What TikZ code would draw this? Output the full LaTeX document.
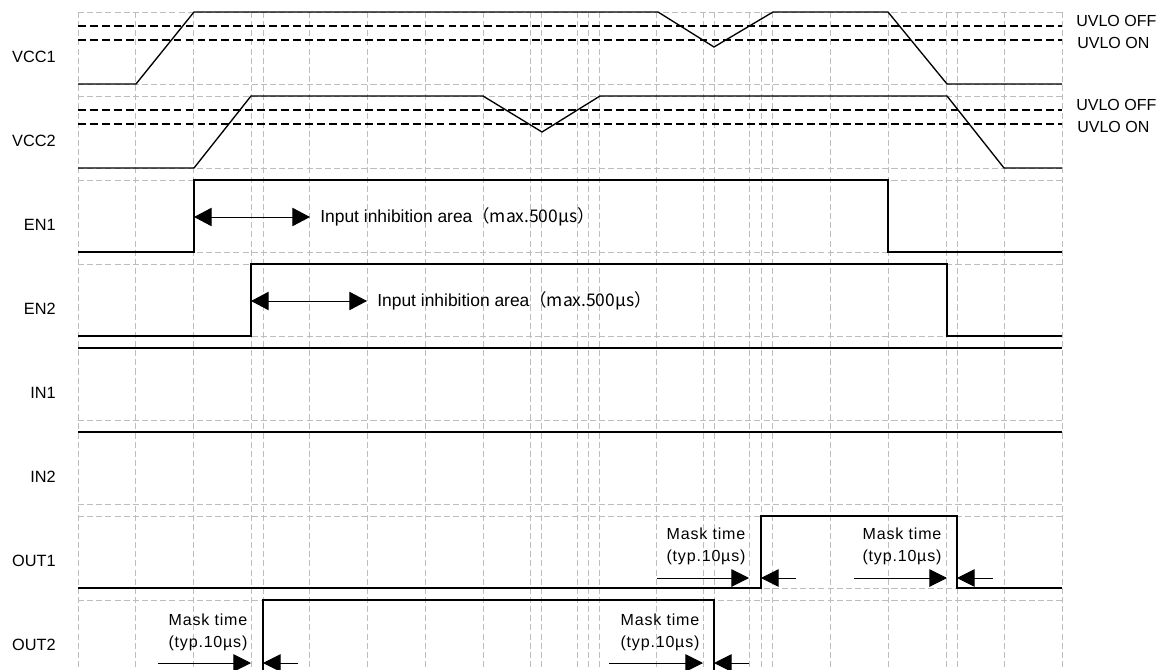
\documentclass[tikz,border=0pt]{standalone}
\usepackage{fontspec}
\setmainfont{Liberation Sans}
\newfontfamily\cjk{Noto Sans CJK JP}
\newfontfamily\spaced[LetterSpace=5]{Liberation Sans}
\usetikzlibrary{arrows.meta,positioning}
\definecolor{gridgray}{HTML}{BDBDBD}

\begin{document}
\begin{tikzpicture}[x=0.025cm, y=-0.025cm,
    grid/.style={gridgray, line width=0.6pt, dash pattern=on 4.3pt off 2.2pt},
    uvlo/.style={black, line width=0.75pt, dash pattern=on 5.6pt off 2.9pt},
    wave/.style={black, line width=0.95pt},
    sig/.style={anchor=east, inner sep=0pt, font=\fontsize{11.6}{13}\selectfont},
    lvl/.style={anchor=west, inner sep=0pt, font=\fontsize{11.4}{13}\selectfont},
    note/.style={anchor=west, inner sep=0pt, font=\fontsize{12.4}{14}\selectfont},
    mask/.style={align=center, inner sep=0pt, font=\spaced\fontsize{11.4}{15.6}\selectfont},
    dim/.style={line width=0.7pt, -{Triangle[length=12.5pt, width=12.5pt]}},
    span/.style={line width=0.7pt, {Triangle[length=12.5pt, width=13pt]}-{Triangle[length=12.5pt, width=13pt]}}]

  \useasboundingbox (0,0) rectangle (1170,670);
  \clip (0,0) rectangle (1170,670);

  % grid
  \foreach \k in {0,...,17}
    \draw[grid] ({78+57.88*\k},12) -- ({78+57.88*\k},672);
  \foreach \x in {263,530,577,588,703,749,761,957}
    \draw[grid] (\x,12) -- (\x,672);
  \foreach \r in {0,...,7}
    \draw[grid] (78,{12+84*\r}) -- (1062,{12+84*\r})
                (78,{84+84*\r}) -- (1062,{84+84*\r});

  % UVLO levels
  \foreach \t in {0,84} {
    \draw[uvlo] (78,{26+\t}) -- (1062,{26+\t});
    \draw[uvlo] (78,{40+\t}) -- (1062,{40+\t});
    \node[lvl] (off\t) at (1076,{21+\t}) {UVLO OFF};
    \node[lvl] (on\t) at (1077,{43+\t}) {UVLO ON};
  }

  % signals
  \foreach \name/\r in {VCC1/0,VCC2/1,EN1/2,EN2/3,IN1/4,IN2/5,OUT1/6,OUT2/7}
    \node[sig] (\name) at (56,{57+84*\r}) {\name};

  \draw[wave] (78,84) -- (136,84) -- (194,12) -- (658,12) -- (714,47)
    -- (773,12) -- (888,12) -- (947,84) -- (1062,84);
  \draw[wave] (78,168) -- (194,168) -- (251,96) -- (483,96) -- (542,132)
    -- (600,96) -- (947,96) -- (1004,168) -- (1062,168);
  \draw[wave] (78,252) -- (194,252) -- (194,180) -- (888,180) -- (888,252) -- (1062,252);
  \draw[wave] (78,336) -- (251,336) -- (251,264) -- (947,264) -- (947,336) -- (1062,336);
  \draw[wave] (78,348) -- (1062,348);
  \draw[wave] (78,432) -- (1062,432);
  \draw[wave] (78,588) -- (761,588) -- (761,516) -- (957,516) -- (957,588) -- (1062,588);
  \draw[wave] (78,672) -- (263,672) -- (263,600) -- (714,600) -- (714,672) -- (1062,672);

  % input inhibition
  \coordinate (en1a) at (194,217);
  \coordinate (en1b) at (310,217);
  \coordinate (en2a) at (251,301);
  \coordinate (en2b) at (367,301);
  \draw[span] (en1a) -- (en1b);
  \draw[span] (en2a) -- (en2b);
  \node[note, right=0.25cm of en1b] (inh1) {Input inhibition area\cjk{（}max.500µs\cjk{）}};
  \node[note, right=0.25cm of en2b] (inh2) {Input inhibition area\cjk{（}max.500µs\cjk{）}};

  % mask time
  \coordinate (m1a) at (657,578);  \coordinate (m1b) at (749,578);
  \coordinate (m1c) at (761,578);  \coordinate (m1d) at (796,578);
  \coordinate (m2a) at (854,578);  \coordinate (m2b) at (947,578);
  \coordinate (m2c) at (957,578);  \coordinate (m2d) at (993,578);
  \coordinate (m3a) at (158,663);  \coordinate (m3b) at (251,663);
  \coordinate (m3c) at (263,663);  \coordinate (m3d) at (298,663);
  \coordinate (m4a) at (609,663);  \coordinate (m4b) at (703,663);
  \coordinate (m4c) at (714,663);  \coordinate (m4d) at (749,663);
  \foreach \m in {m1,m2,m3,m4} {
    \draw[dim] (\m a) -- (\m b);
    \draw[dim] (\m d) -- (\m c);
  }
  \node[mask] (mask1) at (706,546) {Mask time\\(typ.10µs)};
  \node[mask] (mask2) at (902,546) {Mask time\\(typ.10µs)};
  \node[mask] (mask3) at (208,632) {Mask time\\(typ.10µs)};
  \node[mask] (mask4) at (660,632) {Mask time\\(typ.10µs)};
\end{tikzpicture}
\end{document}
